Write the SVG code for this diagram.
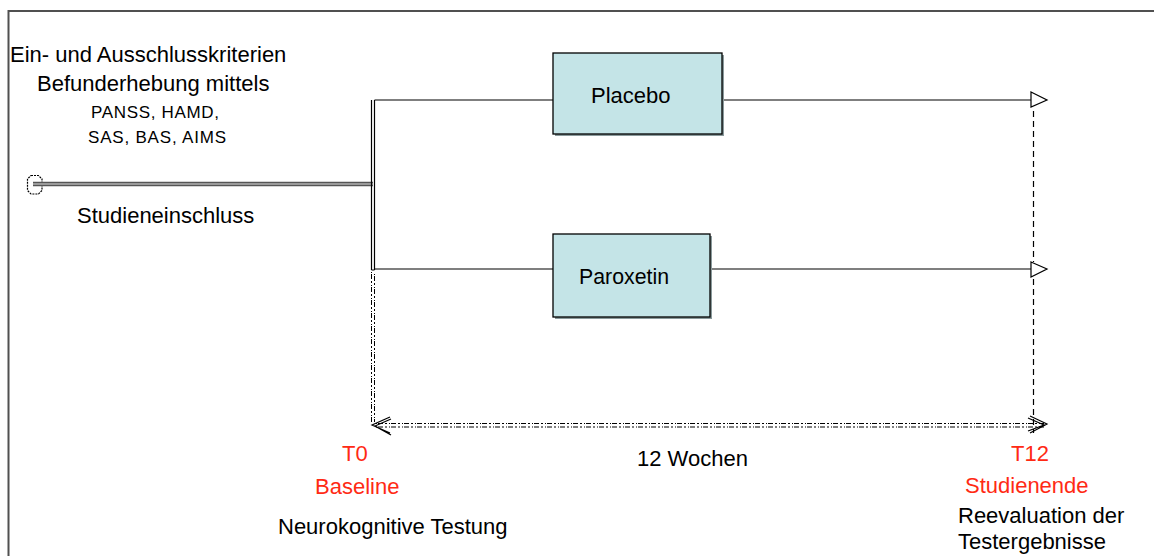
<svg xmlns="http://www.w3.org/2000/svg" width="1154" height="556" viewBox="0 0 1154 556">
<style>
text{font-family:"Liberation Sans",Arial,sans-serif;fill:#000}
.big{font-size:22px}
.small{font-size:17px}
.red{fill:#ff2a14}
.ln{stroke:#000;stroke-width:1.2;fill:none}
.box{fill:#c4e4e7;stroke:#000;stroke-width:1.3}
.shadow{fill:#8a9a9c}
.dash{stroke:#000;stroke-width:1.2;fill:none;stroke-dasharray:6 4}
.odd{stroke:#000;stroke-width:1;fill:none;stroke-dasharray:1 1 5 2 2 2}
</style>
<path d="M8.5,556 V11 H1154" fill="none" stroke="#505050" stroke-width="2"/>
<g id="start">
  <path d="M31,175.5 H38.5 L42,179 V190.5 L38.5,194 H31 L27.5,190.5 V179 Z" fill="#fff" stroke="#000" stroke-width="1.2" stroke-dasharray="2 1"/>
</g>
<g id="connectors">
  <path d="M33,184 H373" stroke="#555" stroke-width="4.5" fill="none"/>
  <path d="M33,184 H373" stroke="#e0e0e0" stroke-width="1.2" fill="none"/>
  <path class="ln" d="M371.5,100 V270 M374.5,100 V270 M371.5,270 H374.5"/>
  <path class="odd" d="M371.5,272 V422 M374.5,274 V422"/>
  <path class="ln" d="M374.5,100 H553 M722,100 H1031"/>
  <path class="ln" d="M374.5,269 H553 M710,269 H1031"/>
  <path class="ln" d="M1031,92 L1047,100 L1031,107 Z" fill="#fff"/>
  <path class="ln" d="M1031,262 L1047,269 L1031,277 Z" fill="#fff"/>
  <path class="dash" d="M1033.5,111 V262 M1033.5,279 V433"/>
  <path class="odd" d="M376,423.5 H1044 M376,427 H1044"/>
  <path class="ln" d="M390,417 L372,425 L390,433 M391,419 L375,426 L391,435"/>
  <path class="ln" d="M1030,416 L1047,424 L1030,433 M1028,418 L1044,425 L1028,431"/>
</g>
<g id="placebo">
  <rect class="shadow" x="555" y="55" width="169" height="81"/>
  <rect class="box" x="553" y="53" width="169" height="81"/>
  <text class="big" x="591" y="103">Placebo</text>
</g>
<g id="paroxetin">
  <rect class="shadow" x="555" y="236" width="157" height="83"/>
  <rect class="box" x="553" y="234" width="157" height="83"/>
  <text class="big" x="579" y="284" textLength="90" lengthAdjust="spacingAndGlyphs">Paroxetin</text>
</g>
<g id="labels-left">
  <text class="big" x="10" y="62">Ein- und Ausschlusskriterien</text>
  <text class="big" x="37" y="91">Befunderhebung mittels</text>
  <text class="small" x="91" y="118" textLength="128" lengthAdjust="spacing">PANSS, HAMD,</text>
  <text class="small" x="88" y="143" textLength="138" lengthAdjust="spacing">SAS, BAS, AIMS</text>
  <text class="big" x="77" y="223">Studieneinschluss</text>
</g>
<g id="t0">
  <text class="big red" x="342" y="461">T0</text>
  <text class="big red" x="315" y="494">Baseline</text>
  <text class="big" x="278" y="534">Neurokognitive Testung</text>
</g>
<g id="duration">
  <text class="big" x="637" y="466">12 Wochen</text>
</g>
<g id="t12">
  <text class="big red" x="1011" y="461">T12</text>
  <text class="big red" x="965" y="493">Studienende</text>
  <text class="big" x="958" y="523">Reevaluation der</text>
  <text class="big" x="958" y="549">Testergebnisse</text>
</g>
</svg>
